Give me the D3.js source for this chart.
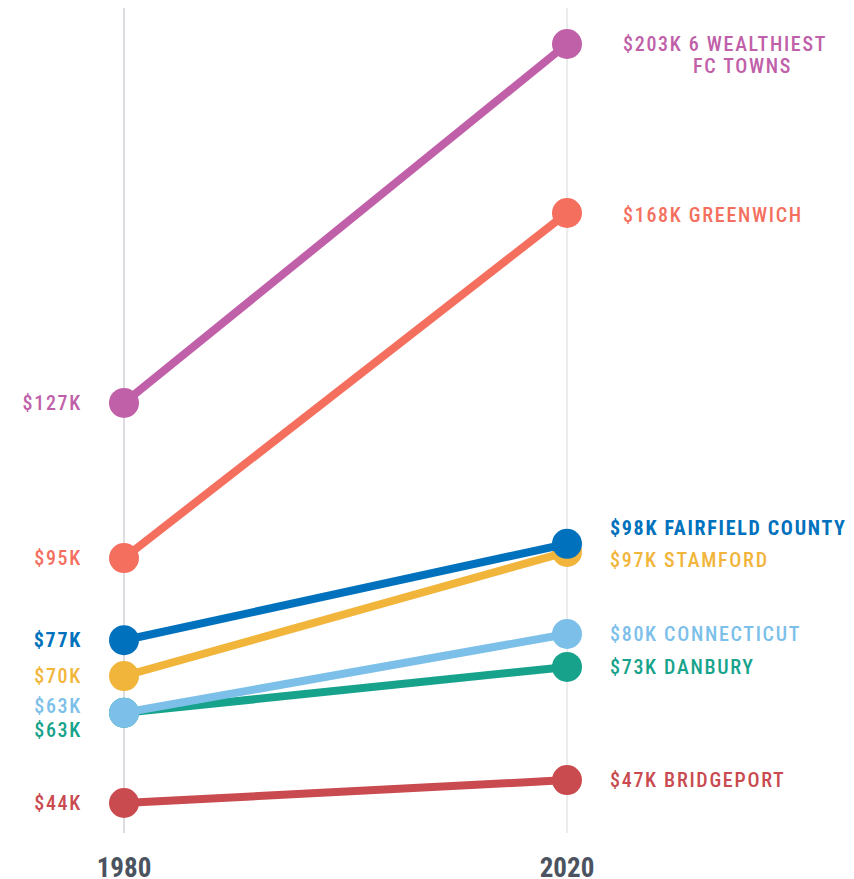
<!DOCTYPE html>
<html lang="en">
<head>
<meta charset="utf-8">
<script src="https://d3js.org/d3.v7.min.js"></script>
<style type="text/css">
body {
  margin: 0;
  background: #fff;
}
.lbl {
  font-family: "Roboto Condensed", "Liberation Sans Narrow", "DejaVu Sans Condensed", Roboto, sans-serif;
  font-size: 20px;
  font-weight: 500;
  letter-spacing: 1.7px;
}
.year {
  font-family: "Roboto Condensed", "Liberation Sans Narrow", "DejaVu Sans Condensed", Roboto, sans-serif;
  font-size: 27px;
  font-weight: bold;
  fill: #4b5360;
}
</style>
</head>
<body>
<script type="text/javascript">
// data
var years = ["1980", "2020"];
var series = ["6 WEALTHIEST FC TOWNS", "GREENWICH", "FAIRFIELD COUNTY", "STAMFORD", "CONNECTICUT", "DANBURY", "BRIDGEPORT"];
var values1980 = [127.8, 95.3, 78.1, 70.6, 62.9, 62.9, 44.0];
var values2020 = [203.0, 167.6, 98.3, 96.6, 79.4, 72.5, 48.8];
var labels1980 = ["$127K", "$95K", "$77K", "$70K", "$63K", "$63K", "$44K"];
var labels2020 = ["$203K", "$168K", "$98K", "$97K", "$80K", "$73K", "$47K"];
var colors = ["#c060a8", "#f46f5e", "#0071bc", "#f2b53b", "#7cc0ea", "#17a38b", "#c94a4f"];

var width = 854, height = 879;

var svg = d3.select("body").append("svg")
    .attr("width", width)
    .attr("height", height);

var x = d3.scalePoint().domain(years).range([124, 567]);
var y = d3.scaleLinear().domain([44, 203]).range([803, 44]);

// vertical guides
svg.selectAll(".guide")
  .data(years)
  .enter().append("line")
    .attr("class", "guide")
    .attr("x1", function(d) { return x(d); })
    .attr("x2", function(d) { return x(d); })
    .attr("y1", 8)
    .attr("y2", 833)
    .attr("stroke", function(d, i) { return i == 0 ? "#dcdde0" : "#ececee"; })
    .attr("stroke-width", 2);

svg.selectAll(".year")
  .data(years)
  .enter().append("text")
    .attr("class", "year")
    .attr("x", function(d) { return x(d); })
    .attr("y", 877)
    .attr("text-anchor", "middle")
    .text(function(d) { return d; });

// draw from bottom to top
var order = [6, 5, 4, 3, 2, 1, 0];

order.forEach(function(i) {
  var g = svg.append("g");
  g.append("line")
    .attr("x1", x(years[0]))
    .attr("y1", y(values1980[i]))
    .attr("x2", x(years[1]))
    .attr("y2", y(values2020[i]))
    .attr("stroke", colors[i])
    .attr("stroke-width", 8);
  g.append("circle")
    .attr("cx", x(years[0]))
    .attr("cy", y(values1980[i]))
    .attr("r", 15)
    .attr("fill", colors[i]);
  g.append("circle")
    .attr("cx", x(years[1]))
    .attr("cy", y(values2020[i]))
    .attr("r", 15)
    .attr("fill", colors[i]);
});

// label nudges so they don't collide
var leftNudge = [0, 0, 0, 0, -7, 17, 0];
var rightNudge = [0, 2, -16, 8, 0, 0, 0];
var rightX = [623, 623, 610, 610, 610, 610, 610];

series.forEach(function(name, i) {
  var bold = (name == "FAIRFIELD COUNTY");
  svg.append("text")
    .attr("class", "lbl")
    .attr("x", 82)
    .attr("y", y(values1980[i]) + leftNudge[i])
    .attr("dy", "0.36em")
    .attr("text-anchor", "end")
    .attr("fill", colors[i])
    .style("font-weight", bold ? "bold" : null)
    .text(labels1980[i]);

  var t = svg.append("text")
    .attr("class", "lbl")
    .attr("x", rightX[i])
    .attr("y", y(values2020[i]) + rightNudge[i])
    .attr("dy", "0.36em")
    .attr("fill", colors[i])
    .style("font-weight", bold ? "bold" : null);

  if (i == 0) {
    t.append("tspan").text(labels2020[i] + " 6 WEALTHIEST");
    t.append("tspan").attr("x", 693).attr("dy", "1.1em").text("FC TOWNS");
  } else {
    t.text(labels2020[i] + " " + name);
  }
});
</script>
</body>
</html>
